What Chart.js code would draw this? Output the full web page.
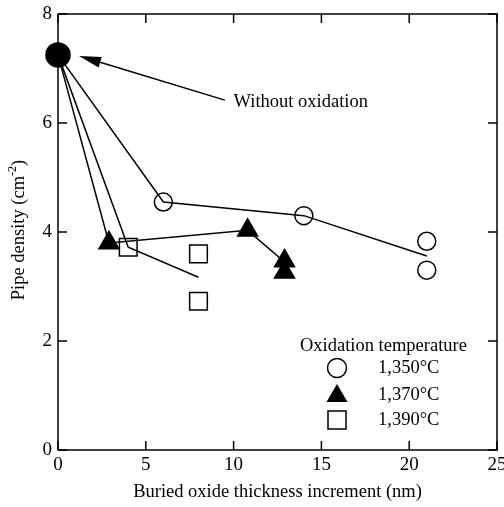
<!DOCTYPE html>
<html>
<head>
<meta charset="utf-8">
<script src="https://cdn.jsdelivr.net/npm/chart.js@4.4.0/dist/chart.umd.min.js"></script>
<style>
  html, body { margin: 0; padding: 0; background: #fff; }
</style>
</head>
<body>
<canvas id="c" width="504" height="507"></canvas>
<script>
// values (x: buried oxide thickness increment in nm, y: pipe density)
const refX = [0];
const refY = [7.25];

const line1350X = [0, 6, 14, 21];
const line1350Y = [7.25, 4.55, 4.3, 3.56];
const pts1350X = [6, 14, 21, 21];
const pts1350Y = [4.55, 4.3, 3.83, 3.3];

const line1370X = [0, 2.9, 10.8, 12.9];
const line1370Y = [7.25, 3.8, 4.03, 3.45];
const pts1370X = [2.9, 10.8, 12.9, 12.9];
const pts1370Y = [3.8, 4.03, 3.47, 3.26];

const line1390X = [0, 4, 8];
const line1390Y = [7.25, 3.72, 3.17];
const pts1390X = [4, 8, 8];
const pts1390Y = [3.72, 3.6, 2.73];

const xTicks = [0, 5, 10, 15, 20, 25];
const yTicks = [0, 2, 4, 6, 8];
const legendLabels = ['1,350\u00b0C', '1,370\u00b0C', '1,390\u00b0C'];

const SERIF = '"Liberation Serif", "Times New Roman", serif';
const TXT = '18.5px ' + SERIF;

function toPts(xs, ys) {
    return xs.map((x, i) => ({x: x, y: ys[i]}));
}

function lineSet(xs, ys) {
    return {
        data: toPts(xs, ys),
        showLine: true,
        borderColor: '#000',
        borderWidth: 1.5,
        pointRadius: 0,
        pointHoverRadius: 0,
        clip: false
    };
}

function markerSet(xs, ys, style, radius, filled) {
    return {
        data: toPts(xs, ys),
        showLine: false,
        pointStyle: style,
        pointRadius: radius,
        pointHoverRadius: radius,
        pointBorderWidth: 1.5,
        pointBorderColor: '#000',
        pointBackgroundColor: filled ? '#000' : 'rgba(0,0,0,0)',
        clip: false
    };
}

// frame, inward ticks, arrow, annotation, y title and legend
const decorations = {
    id: 'decorations',
    afterDatasetsDraw(chart) {
        const ctx = chart.ctx;
        const a = chart.chartArea;
        const xs = chart.scales.x, ys = chart.scales.y;
        const tl = 9;
        ctx.save();
        ctx.strokeStyle = '#000';
        ctx.lineWidth = 1.5;
        ctx.strokeRect(a.left, a.top, a.right - a.left, a.bottom - a.top);
        ctx.beginPath();
        xTicks.forEach(v => {
            const px = xs.getPixelForValue(v);
            ctx.moveTo(px, a.bottom); ctx.lineTo(px, a.bottom - tl);
            ctx.moveTo(px, a.top); ctx.lineTo(px, a.top + tl);
        });
        yTicks.forEach(v => {
            const py = ys.getPixelForValue(v);
            ctx.moveTo(a.left, py); ctx.lineTo(a.left + tl, py);
            ctx.moveTo(a.right, py); ctx.lineTo(a.right - tl, py);
        });
        ctx.stroke();

        // arrow to the reference point
        const x0 = xs.getPixelForValue(9.5), y0 = ys.getPixelForValue(6.42);
        const x1 = xs.getPixelForValue(1.2), y1 = ys.getPixelForValue(7.23);
        const ang = Math.atan2(y1 - y0, x1 - x0);
        const hl = 22, hw = 5.5;
        const bx = x1 - Math.cos(ang) * hl, by = y1 - Math.sin(ang) * hl;
        ctx.beginPath();
        ctx.moveTo(x0, y0); ctx.lineTo(bx, by);
        ctx.stroke();
        ctx.beginPath();
        ctx.moveTo(x1, y1);
        ctx.lineTo(bx + Math.sin(ang) * hw, by - Math.cos(ang) * hw);
        ctx.lineTo(bx - Math.sin(ang) * hw, by + Math.cos(ang) * hw);
        ctx.closePath();
        ctx.fillStyle = '#000';
        ctx.fill();

        ctx.font = TXT;
        ctx.textBaseline = 'middle';
        ctx.textAlign = 'left';
        ctx.fillText('Without oxidation', xs.getPixelForValue(10.0), ys.getPixelForValue(6.39));

        // y axis title with superscript
        ctx.save();
        ctx.translate(19, 230);
        ctx.rotate(-Math.PI / 2);
        const main = 'Pipe density (cm';
        const sup = '-2';
        const tail = ')';
        ctx.font = TXT;
        const w1 = ctx.measureText(main).width;
        const w3 = ctx.measureText(tail).width;
        ctx.font = '12px ' + SERIF;
        const w2 = ctx.measureText(sup).width;
        let sx = -(w1 + w2 + w3) / 2;
        ctx.font = TXT;
        ctx.fillText(main, sx, 0);
        ctx.font = '12px ' + SERIF;
        ctx.fillText(sup, sx + w1, -6);
        ctx.font = TXT;
        ctx.fillText(tail, sx + w1 + w2, 0);
        ctx.restore();

        // legend
        ctx.font = TXT;
        ctx.fillText('Oxidation temperature', 300, 346);
        const mx = 337;
        const rows = [368, 395, 420];
        ctx.lineWidth = 1.5;
        ctx.beginPath();
        ctx.arc(mx, rows[0], 9.5, 0, Math.PI * 2);
        ctx.stroke();
        ctx.beginPath();
        ctx.moveTo(mx, rows[1] - 11);
        ctx.lineTo(mx + 10.5, rows[1] + 7);
        ctx.lineTo(mx - 10.5, rows[1] + 7);
        ctx.closePath();
        ctx.fill();
        ctx.strokeRect(mx - 9, rows[2] - 9, 18, 18);
        legendLabels.forEach((t, i) => ctx.fillText(t, 378, rows[i]));
        ctx.restore();
    }
};

new Chart(document.getElementById('c'), {
    type: 'scatter',
    data: {
        datasets: [
            lineSet(line1350X, line1350Y),
            lineSet(line1370X, line1370Y),
            lineSet(line1390X, line1390Y),
            markerSet(pts1350X, pts1350Y, 'circle', 9, false),
            markerSet(pts1370X, pts1370Y, 'triangle', 11.5, true),
            markerSet(pts1390X, pts1390Y, 'rect', 12.5, false),
            markerSet(refX, refY, 'circle', 12, true)
        ]
    },
    options: {
        responsive: false,
        animation: false,
        devicePixelRatio: 1,
        layout: { autoPadding: false, padding: { top: 14, right: 7, left: 0, bottom: 0 } },
        plugins: {
            legend: { display: false },
            tooltip: { enabled: false }
        },
        scales: {
            x: {
                type: 'linear',
                min: 0, max: 25,
                afterFit(scale) {
                    scale.height = 57;
                    scale.paddingLeft = 0;
                    scale.paddingRight = 0;
                },
                afterBuildTicks(scale) { scale.ticks = xTicks.map(v => ({value: v})); },
                grid: { display: false, drawTicks: false },
                border: { display: false },
                ticks: {
                    color: '#000',
                    padding: 4,
                    font: { family: SERIF, size: 19 }
                },
                title: {
                    display: true,
                    text: 'Buried oxide thickness increment (nm)',
                    color: '#000',
                    padding: { top: 0, bottom: 4 },
                    font: { family: SERIF, size: 18.5 }
                }
            },
            y: {
                type: 'linear',
                min: 0, max: 8,
                afterFit(scale) {
                    scale.width = 58;
                    scale.paddingTop = 0;
                    scale.paddingBottom = 0;
                },
                afterBuildTicks(scale) { scale.ticks = yTicks.map(v => ({value: v})); },
                grid: { display: false, drawTicks: false },
                border: { display: false },
                ticks: {
                    color: '#000',
                    padding: 6,
                    font: { family: SERIF, size: 19 }
                }
            }
        }
    },
    plugins: [decorations]
});
</script>
</body>
</html>
